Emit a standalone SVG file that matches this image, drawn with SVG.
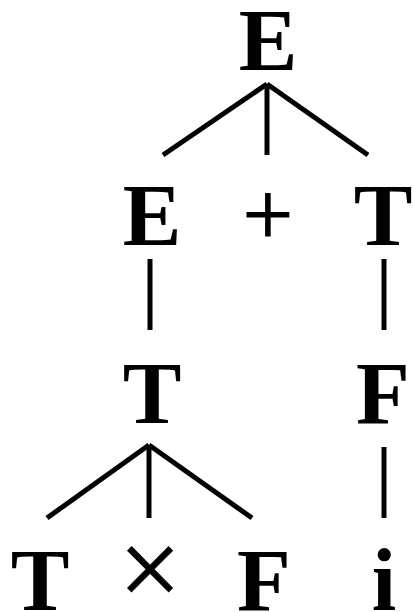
<svg xmlns="http://www.w3.org/2000/svg" width="413" height="612" viewBox="0 0 413 612">
<style>
.n{font-weight:bold;font-size:88px;text-anchor:middle;fill:#000}
.o{font-weight:normal;font-size:90px;text-anchor:middle;fill:#000;stroke:#000;stroke-width:1}
.x{font-weight:normal;font-size:110px;text-anchor:middle;fill:#000;stroke:#000;stroke-width:1}
.e{stroke:#000;stroke-width:5;fill:none;stroke-linecap:butt}
</style>
<rect width="413" height="612" fill="#fff"/>
<g id="connectors" class="e">
<line x1="267" y1="84" x2="163" y2="155"/>
<line x1="267" y1="84" x2="267" y2="155"/>
<line x1="267" y1="84" x2="368" y2="155"/>
<line x1="150" y1="259" x2="150" y2="330"/>
<line x1="384" y1="259" x2="384" y2="330"/>
<line x1="149" y1="445" x2="47" y2="518"/>
<line x1="149" y1="445" x2="149" y2="518"/>
<line x1="149" y1="445" x2="252" y2="518"/>
<line x1="384" y1="447" x2="384" y2="518"/>
</g>
<g id="n_E0"><text class="n" font-family="Liberation Serif" x="268" y="70">E</text></g>
<g id="n_E1"><text class="n" font-family="Liberation Serif" x="152" y="245">E</text></g>
<g id="n_plus"><text class="o" font-family="Liberation Serif" x="268" y="245">+</text></g>
<g id="n_T1"><text class="n" font-family="Liberation Serif" x="383" y="245">T</text></g>
<g id="n_T2"><text class="n" font-family="Liberation Serif" x="152" y="423">T</text></g>
<g id="n_F1"><text class="n" font-family="Liberation Serif" x="383" y="423">F</text></g>
<g id="n_T3"><text class="n" font-family="Liberation Serif" x="40" y="610">T</text></g>
<g id="n_times"><text class="x" font-family="Liberation Serif" x="150" y="606">×</text></g>
<g id="n_F2"><text class="n" font-family="Liberation Serif" x="264" y="610">F</text></g>
<g id="n_i"><text class="n" font-family="Liberation Serif" x="384" y="610">i</text></g>
</svg>
